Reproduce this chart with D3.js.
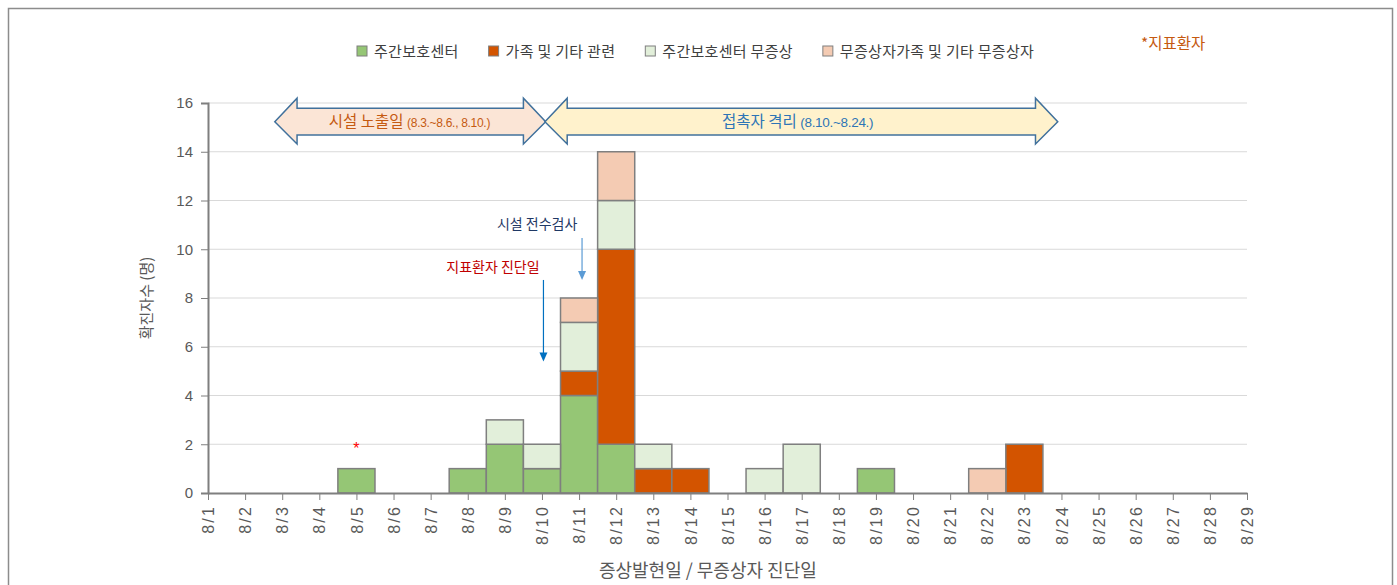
<!DOCTYPE html>
<html><head><meta charset="utf-8">
<script src="https://cdn.jsdelivr.net/npm/d3@7"></script>
<style>
body{margin:0;background:#fff;}
svg{display:block;font-family:"Noto Sans CJK KR","Noto Sans",sans-serif;}
</style></head>
<body><svg id="c" width="1397" height="585"></svg>
<script>
// ---- data ----
const days = d3.range(1, 30);                // 8/1 .. 8/29
const tickLabels = days.map(d => "8/" + d);
const seriesNames = ["주간보호센터", "가족 및 기타 관련", "주간보호센터 무증상", "무증상자가족 및 기타 무증상자"];
const seriesColors = ["#95c675", "#d35400", "#e2efda", "#f4cbb3"];
const barDays      = [5, 8, 9, 10, 11, 12, 13, 14, 16, 17, 19, 22, 23];
const centerCases  = [1, 1, 2, 1, 4, 2, 0, 0, 0, 0, 1, 0, 0];
const familyCases  = [0, 0, 0, 0, 1, 8, 1, 1, 0, 0, 0, 0, 2];
const centerAsym   = [0, 0, 1, 1, 2, 2, 1, 0, 1, 2, 0, 0, 0];
const familyAsym   = [0, 0, 0, 0, 1, 2, 0, 0, 0, 0, 0, 1, 0];
const yTicks = [0, 2, 4, 6, 8, 10, 12, 14, 16];
const indexPatient = {day: 5, value: 2};
// range arrows
const periods = [
  {from: 2.8, to: 10.1, tx: 6.43, fill: "#fbe5d6", color: "#c55a11", label: "시설 노출일", sub: "(8.3.~8.6., 8.10.)", subSize: 12},
  {from: 10.08, to: 23.9, tx: 16.89, fill: "#fff2cc", color: "#2e75b6", label: "접촉자 격리", sub: "(8.10.~8.24.)", subSize: 13.5}
];
const notes = [
  {text: "시설 전수검사", color: "#1f3864", tx: 9.87, ty: 10.83, ax: 11.08, y1: 10.46, y2: 8.74, arrow: "#5b9bd5"},
  {text: "지표환자 진단일", color: "#c00000", tx: 8.68, ty: 9.07, ax: 10.04, y1: 8.74, y2: 5.39, arrow: "#0070c0"}
];

// ---- chart ----
const svg = d3.select("#c");
const x = d3.scaleLinear().domain([1, 29]).range([208, 1247]);
const y = d3.scaleLinear().domain([0, 16]).range([493, 103]);
const bw = x(2) - x(1);

// outer border
svg.append("rect").attr("x", 8.5).attr("y", 8.5).attr("width", 1384).attr("height", 600)
  .attr("fill", "none").attr("stroke", "#8c8c8c").attr("stroke-width", 1.5);

// gridlines
svg.append("g").selectAll("line").data(yTicks.filter(d => d > 0)).join("line")
  .attr("x1", x(1)).attr("x2", x(29)).attr("y1", d => y(d)).attr("y2", d => y(d))
  .attr("stroke", "#d9d9d9").attr("stroke-width", 1);

// stacked bars
const rows = barDays.map((d, i) => ({day: d, s0: centerCases[i], s1: familyCases[i], s2: centerAsym[i], s3: familyAsym[i]}));
const stack = d3.stack().keys(["s0", "s1", "s2", "s3"])(rows);
svg.append("g").selectAll("g").data(stack).join("g")
  .attr("fill", (d, i) => seriesColors[i])
  .selectAll("rect").data(d => d.filter(v => v[1] > v[0])).join("rect")
  .attr("x", d => x(d.data.day) - bw / 2).attr("width", bw)
  .attr("y", d => y(d[1])).attr("height", d => y(d[0]) - y(d[1]))
  .attr("stroke", "#7f7f7f").attr("stroke-width", 1.5);

// y axis
const yAxis = svg.append("g").attr("transform", `translate(${x(1)},0)`)
  .call(d3.axisLeft(y).tickValues(yTicks).tickSize(7).tickPadding(8));
yAxis.select(".domain").attr("stroke", "#7f7f7f").attr("stroke-width", 2);
yAxis.selectAll(".tick line").attr("stroke", "#7f7f7f");
yAxis.selectAll(".tick text").attr("fill", "#595959").attr("font-size", 15)
  .attr("font-family", "'Liberation Sans',Arial,sans-serif");

// x axis
const xAxis = svg.append("g").attr("transform", `translate(0,${y(0)})`)
  .call(d3.axisBottom(x).tickValues(days).tickFormat((d, i) => tickLabels[i]).tickSize(7).tickSizeOuter(0));
xAxis.select(".domain").attr("stroke", "#7f7f7f").attr("stroke-width", 2);
xAxis.selectAll(".tick line").attr("stroke", "#7f7f7f");
xAxis.selectAll(".tick text").attr("fill", "#595959").attr("font-size", 16)
  .attr("font-family", "'Liberation Sans',Arial,sans-serif")
  .attr("letter-spacing", 2.2)
  .attr("text-anchor", "end").attr("transform", "rotate(-90)")
  .attr("x", -12).attr("y", 0).attr("dy", "0.35em");

// axis titles
svg.append("text").attr("transform", `translate(152,${(y(0) + y(16)) / 2}) rotate(-90)`)
  .attr("text-anchor", "middle").attr("fill", "#595959").attr("font-size", 15).text("확진자수 (명)");
svg.append("text").attr("x", x(14.47)).attr("y", 577)
  .attr("text-anchor", "middle").attr("fill", "#595959").attr("font-size", 18).text("증상발현일 / 무증상자 진단일");

// legend
const leg = svg.append("g");
let lx = 357;
seriesNames.forEach((n, i) => {
  leg.append("rect").attr("x", lx).attr("y", 46).attr("width", 10).attr("height", 10)
    .attr("fill", seriesColors[i]).attr("stroke", "#7f7f7f").attr("stroke-width", 1);
  const t = leg.append("text").attr("x", lx + 17).attr("y", 56.5).attr("fill", "#404040")
    .attr("font-size", 15).attr("letter-spacing", 0.3).text(n);
  lx += 17 + t.node().getComputedTextLength() + 30;
});
svg.append("text").attr("x", 1141).attr("y", 49).attr("fill", "#c55a11").attr("font-size", 15.5).text("*지표환자");

// index patient star
svg.append("text").attr("x", x(indexPatient.day)).attr("y", y(indexPatient.value)).attr("dy", "0.6em")
  .attr("text-anchor", "middle").attr("fill", "#ff0000").attr("font-size", 16)
  .attr("font-family", "'Liberation Sans',Arial,sans-serif").text("*");

// period arrows
const head = 0.6, yTop = 16.2, yBot = 14.32, sTop = 15.78, sBot = 14.69, yMid = 15.23;
periods.forEach(p => {
  const pts = [
    [p.from, yMid], [p.from + head, yTop], [p.from + head, sTop], [p.to - head, sTop], [p.to - head, yTop],
    [p.to, yMid], [p.to - head, yBot], [p.to - head, sBot], [p.from + head, sBot], [p.from + head, yBot]
  ];
  svg.append("path").attr("d", d3.line().x(d => x(d[0])).y(d => y(d[1]))(pts) + "Z")
    .attr("fill", p.fill).attr("stroke", "#41719c").attr("stroke-width", 1.5);
  const t = svg.append("text").attr("x", x(p.tx)).attr("y", y(15.0))
    .attr("text-anchor", "middle").attr("fill", p.color);
  t.append("tspan").attr("font-size", 15.5).text(p.label + " ");
  t.append("tspan").attr("font-size", p.subSize).attr("font-family", "'Liberation Sans',Arial,sans-serif")
    .attr("letter-spacing", -0.3).text(p.sub);
});

// notes with arrows
notes.forEach(n => {
  svg.append("text").attr("x", x(n.tx)).attr("y", y(n.ty)).attr("text-anchor", "middle")
    .attr("fill", n.color).attr("font-size", 14).text(n.text);
  svg.append("line").attr("x1", x(n.ax)).attr("x2", x(n.ax)).attr("y1", y(n.y1)).attr("y2", y(n.y2) - 8)
    .attr("stroke", n.arrow).attr("stroke-width", 1.2);
  const ax = x(n.ax), ay = y(n.y2);
  svg.append("path").attr("d", `M${ax - 4},${ay - 9}L${ax + 4},${ay - 9}L${ax},${ay}Z`).attr("fill", n.arrow);
});
</script></body></html>
